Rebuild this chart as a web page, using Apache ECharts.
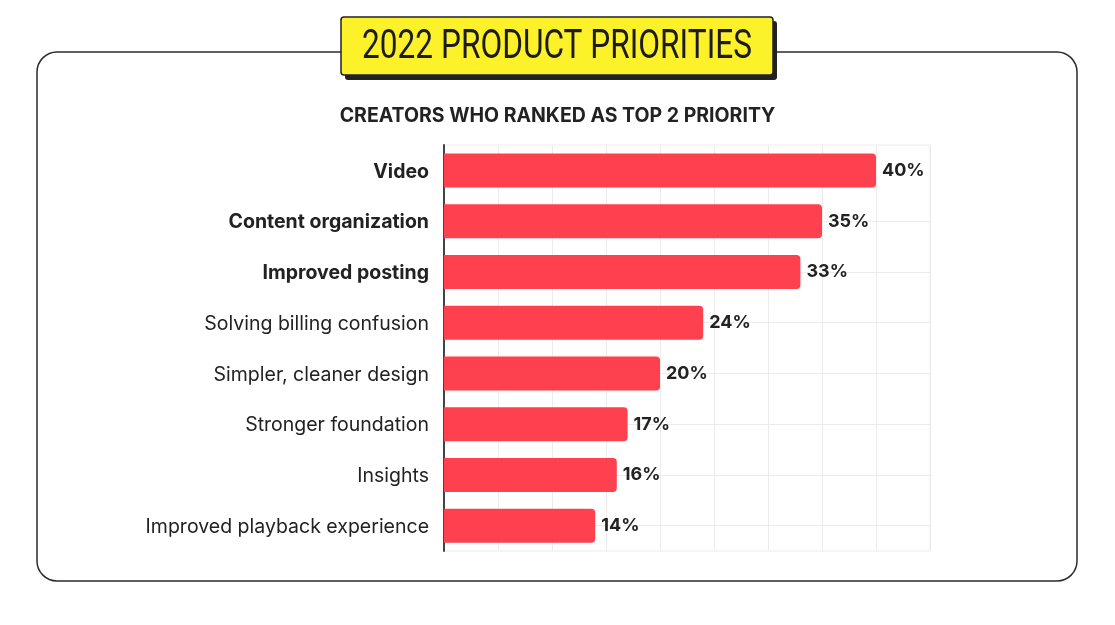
<!DOCTYPE html>
<html>
<head>
<meta charset="utf-8">
<script src="https://cdn.jsdelivr.net/npm/echarts@6/dist/echarts.min.js"></script>
<style>
html,body{margin:0;padding:0;background:#fff;}
#chart{width:1115px;height:625px;}
</style>
</head>
<body>
<div id="chart"></div>
<script>
const titleText = '2022 PRODUCT PRIORITIES';
const subtitleText = 'CREATORS WHO RANKED AS TOP 2 PRIORITY';
const categories = ['Video','Content organization','Improved posting','Solving billing confusion','Simpler, cleaner design','Stronger foundation','Insights','Improved playback experience'];
const values = [40, 35, 33, 24, 20, 17, 16, 14];
const boldCategories = ['Video','Content organization','Improved posting'];

const chart = echarts.init(document.getElementById('chart'), null, {renderer:'canvas'});
const FONT = 'Inter, "Noto Sans", sans-serif';
const TITLE_FONT = '400 41px Roboto, sans-serif';

// measure title to fit its condensed look into the box
const cv = document.createElement('canvas').getContext('2d');
cv.font = TITLE_FONT;
const tw = cv.measureText(titleText).width;
const titleScale = 390 / tw;

chart.setOption({
  backgroundColor: '#ffffff',
  animation: false,
  graphic: [
    {type:'rect', z:-10, shape:{x:37, y:52, width:1040, height:529, r:20},
     style:{fill:'#fff', stroke:'#2b2b2b', lineWidth:1.5}},
    {type:'rect', z:10, shape:{x:345, y:21, width:432, height:59, r:3},
     style:{fill:'#222'}},
    {type:'rect', z:11, shape:{x:341, y:17, width:432, height:58, r:3},
     style:{fill:'#fdf22a', stroke:'#222', lineWidth:1.5}},
    {type:'text', z:12, x:557, y:48, scaleX:titleScale, originX:0, originY:0,
     style:{text:titleText, x:0, y:0, align:'center', verticalAlign:'middle', fill:'#1c1c1c', font:TITLE_FONT}},
    {type:'text', z:12, left:'center', top:106,
     style:{text:subtitleText, fill:'#222', font:'bold 19.5px ' + FONT}}
  ],
  grid: {left:444, right:185, top:145, bottom:74, show:true, borderColor:'#ececec', borderWidth:1},
  xAxis: {
    type:'value', min:0, max:45, interval:5,
    axisLabel:{show:false}, axisLine:{show:false}, axisTick:{show:false},
    splitLine:{show:true, lineStyle:{color:'#ececec', width:1}}
  },
  yAxis: {
    type:'category', inverse:true, data:categories,
    axisLine:{show:true, lineStyle:{color:'#444', width:2}},
    axisTick:{show:false},
    splitLine:{show:false},
    axisLabel:{
      margin:15, fontFamily:FONT, fontSize:19.5, color:'#222',
      formatter: function(v){ return boldCategories.indexOf(v) >= 0 ? '{b|' + v + '}' : '{n|' + v + '}'; },
      rich:{
        b:{fontFamily:FONT, fontSize:19.5, fontWeight:'bold', color:'#222', padding:[3,0,0,0]},
        n:{fontFamily:FONT, fontSize:19.5, fontWeight:'normal', color:'#222', padding:[3,0,0,0]}
      }
    }
  },
  series: [{
    type:'bar', data:values, barWidth:34, z:3,
    itemStyle:{color:'#fe404f', borderRadius:[0,4,4,0]},
    label:{show:true, position:'right', distance:6, formatter:'{c}%', padding:[3,0,0,0],
      fontFamily:FONT, fontSize:18, fontWeight:'bold', color:'#222'},
    markLine:{
      silent:true, symbol:'none', z:1, label:{show:false},
      lineStyle:{color:'#ececec', width:1, type:'solid'},
      data: categories.slice(1).map(function(c){ return {yAxis:c}; })
    }
  }]
});
</script>
</body>
</html>
